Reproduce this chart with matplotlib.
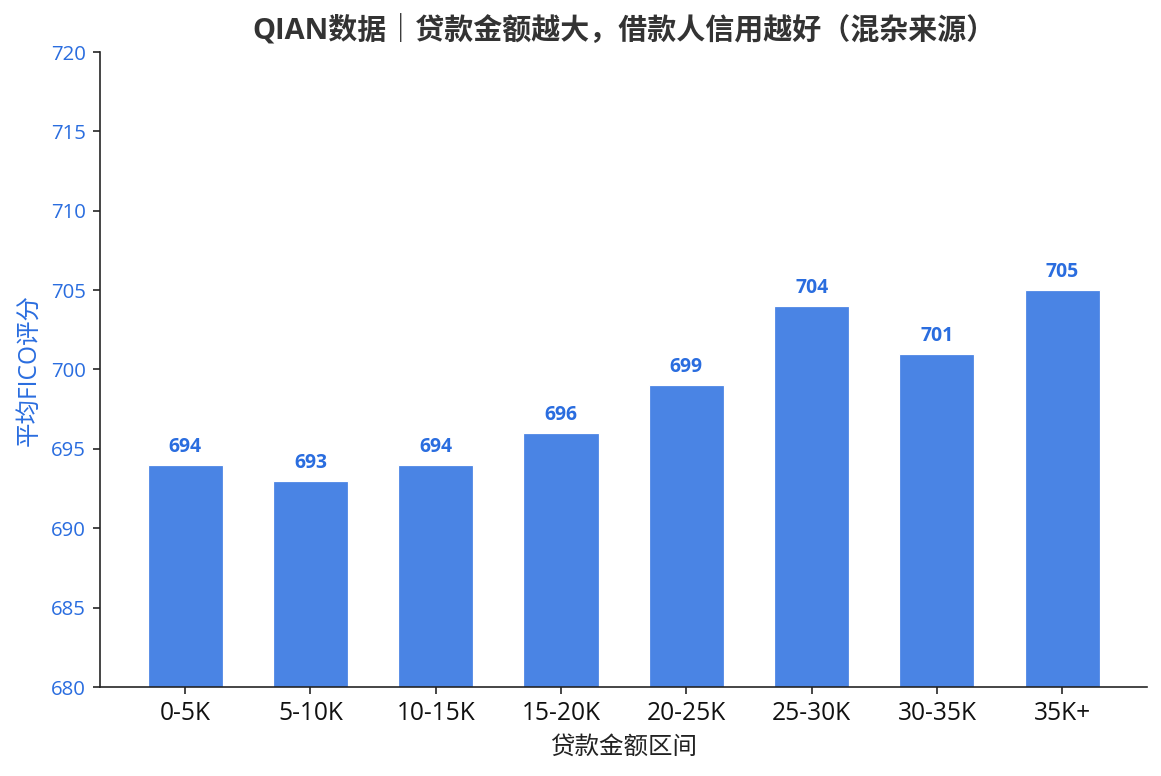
import matplotlib
matplotlib.use("Agg")
import matplotlib.pyplot as plt

plt.rcParams['font.family'] = ['Open Sans', 'Noto Sans CJK SC', 'DejaVu Sans']
plt.rcParams['axes.unicode_minus'] = False

# data
loan_bins = ["0-5K", "5-10K", "10-15K", "15-20K", "20-25K", "25-30K", "30-35K", "35K+"]
avg_fico = [694, 693, 694, 696, 699, 704, 701, 705]

bar_color = "#4a84e4"
label_color = "#2a6ddf"

fig = plt.figure(figsize=(7.9, 5.28), dpi=147)
ax = fig.add_axes([0.0861, 0.1147, 0.9019, 0.8183])

bars = ax.bar(loan_bins, avg_fico, width=0.6, color=bar_color,
              edgecolor="white", linewidth=0.6)

for rect, v in zip(bars, avg_fico):
    ax.annotate(f"{v}", (rect.get_x() + rect.get_width() / 2, v),
                xytext=(0, 4), textcoords="offset points",
                ha="center", va="bottom", fontsize=9.5,
                fontweight="bold", color=label_color)

ax.set_ylim(680, 720)
ax.set_yticks(range(680, 721, 5))
ax.set_title("QIAN数据｜贷款金额越大，借款人信用越好（混杂来源）",
             fontsize=14.2, fontweight="bold", color="#333333", pad=6)
ax.set_xlabel("贷款金额区间", fontsize=12, color="#222222", labelpad=4)
ax.set_ylabel("平均FICO评分", fontsize=12, color=label_color)

ax.tick_params(axis="y", colors="#222222", labelcolor=label_color, labelsize=10)
ax.tick_params(axis="x", colors="#222222", labelcolor="#111111", labelsize=12)
for s in ["top", "right"]:
    ax.spines[s].set_visible(False)
for s in ["left", "bottom"]:
    ax.spines[s].set_color("#222222")

fig.savefig("out.png", dpi=147)
